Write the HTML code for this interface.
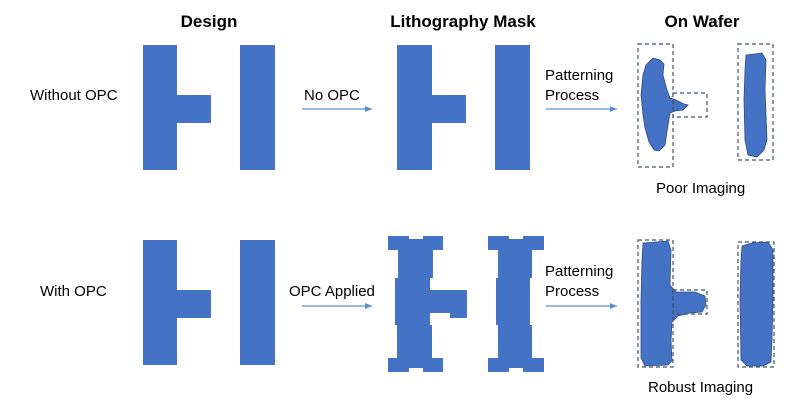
<!DOCTYPE html>
<html><head><style>
html,body{margin:0;padding:0;background:#fff;}
svg{display:block;font-family:"Liberation Sans",sans-serif;}
</style></head><body>
<svg width="800" height="412" viewBox="0 0 800 412">
<defs><marker id="a" markerWidth="8" markerHeight="8" refX="7" refY="4" orient="auto" markerUnits="userSpaceOnUse"><path d="M0,1 L7,4 L0,7 z" fill="#5b8fd4"/></marker></defs>
<g font-weight="bold" font-size="17" text-anchor="middle" fill="#000">
<text x="209" y="27">Design</text>
<text x="463" y="27">Lithography Mask</text>
<text x="702" y="27">On Wafer</text>
</g>
<g font-size="15" fill="#000">
<text x="30" y="100">Without OPC</text>
<text x="40" y="296">With OPC</text>
<text x="304" y="100">No OPC</text>
<text x="289" y="296">OPC Applied</text>
<text x="545" y="80">Patterning</text>
<text x="545" y="100">Process</text>
<text x="545" y="276">Patterning</text>
<text x="545" y="296">Process</text>
<text x="656" y="193">Poor Imaging</text>
<text x="648" y="392">Robust Imaging</text>
</g>
<g stroke="#5b8fd4" stroke-width="1.3" marker-end="url(#a)">
<line x1="302" y1="109" x2="372" y2="109"/>
<line x1="546" y1="109" x2="617" y2="109"/>
<line x1="302" y1="306" x2="372" y2="306"/>
<line x1="546" y1="306" x2="617" y2="306"/>
</g>
<g fill="#4472c4">
<path d="M143,45H177V95H211V123H177V170H143Z"/>
<rect x="240" y="45" width="35" height="125"/>
<path d="M143,240H177V290H211V318H177V365H143Z"/>
<rect x="240" y="240" width="35" height="125"/>
<path d="M397,45H432V95H466V123H432V170H397Z"/>
<rect x="495" y="45" width="35" height="125"/>
<path d="M388,236H409V239H423V236H443V250H433V278H430V290H467V318H450V313H430V325H432V358H443V372H423V368H409V372H388V358H397V325H395V278H398V250H388Z"/>
<path d="M488,236H509V239H523V236H544V250H532V278H530V325H532V358H544V372H523V368H509V372H488V358H498V325H496V278H498V250H488Z"/>
</g>
<g fill="#4472c4" stroke="#2f4f80" stroke-width="0.8">
<path d="M653,58L660,60L664,64L663,75L667,90L670,98L676,100L684,104L688,105L683,110L675,111L670,113L668,125L665,145L659,151L654,150L649,142L645,128L643,115L641,95L643,75L646,65Z"/>
<path d="M746,55L762,53L766,60L765,90L767,140L764,150L757,157L748,155L745,140L744,100L745,70Z"/>
<path d="M643,243L668,241L671,250L670,285L676,292L695,292L705,296L706,305L702,312L690,313L678,316L672,322L671,340L672,361L668,365L645,366L641,358L641,300L642,260Z"/>
<path d="M742,246L752,243L768,242L773,250L773,300L772,340L771,362L763,366L747,366L741,360L740,300L741,260Z"/>
</g>
<g fill="none" stroke="#44546a" stroke-width="1.2" stroke-dasharray="4,3">
<rect x="638" y="44" width="35" height="123"/>
<rect x="673" y="93" width="34" height="24"/>
<rect x="738" y="44" width="35" height="116"/>
<rect x="638" y="240" width="35" height="127"/>
<rect x="673" y="290" width="34" height="24"/>
<rect x="738" y="242" width="36" height="125"/>
</g>
</svg>
</body></html>
